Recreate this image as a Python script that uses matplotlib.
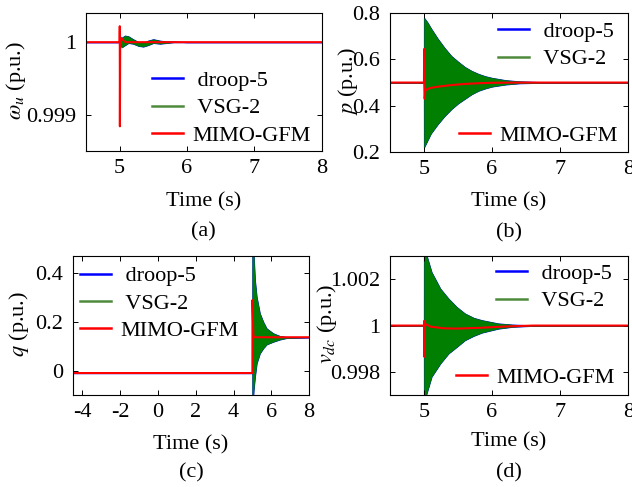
import numpy as np
from matplotlib import pyplot as plt
from matplotlib.lines import Line2D

plt.rcParams['font.family'] = ['Liberation Serif', 'DejaVu Serif']
plt.rcParams['mathtext.fontset'] = 'stix'
plt.rcParams['font.size'] = 16
plt.rcParams['axes.unicode_minus'] = False

BLUE, GREEN, RED = '#0000ff', '#007f00', '#ff0000'
GREEN_LEG = '#4f8a3c'

# ---- (a) omega_u: oscillation envelope of VSG-2 / droop-5, MIMO-GFM trace
t_w = [4.5, 5.0, 5.03, 5.08, 5.13, 5.2, 5.28, 5.35, 5.42, 5.5, 5.6, 5.7, 5.8, 6.0, 8.0]
w_hi = [1.0, 1.0, 1.00006, 1.00009, 1.00008, 1.00004, 1.0, 0.99999, 1.00002,
        1.00004, 1.00002, 1.00001, 1.00001, 1.0, 1.0]
w_lo = [1.0, 1.0, 0.99993, 0.99996, 0.99999, 0.99998, 0.99995, 0.99994, 0.99996,
        0.99999, 0.99998, 0.99999, 1.0, 1.0, 1.0]
t_w_mimo = [4.5, 5.0, 5.002, 5.004, 5.008, 5.02, 5.04, 5.07, 5.1, 5.2, 8.0]
w_mimo = [1.0, 1.0, 1.00022, 0.99884, 1.0, 1.00006, 1.00004, 1.00001, 1.0, 1.0, 1.0]

# ---- (b) p
t_p = [4.5, 4.999, 5.0, 5.05, 5.1, 5.2, 5.3, 5.4, 5.5, 5.6, 5.7, 5.8, 5.9, 6.0,
       6.2, 6.4, 6.7, 7.0, 8.0]
p_hi = [0.5, 0.5, 0.78, 0.76, 0.735, 0.69, 0.65, 0.615, 0.59, 0.567, 0.55, 0.537,
        0.527, 0.52, 0.51, 0.505, 0.502, 0.5, 0.5]
p_lo = [0.5, 0.5, 0.22, 0.25, 0.28, 0.32, 0.355, 0.385, 0.41, 0.43, 0.45, 0.465,
        0.475, 0.483, 0.492, 0.497, 0.499, 0.5, 0.5]
t_p_mimo = [4.5, 5.0, 5.002, 5.004, 5.01, 5.02, 5.05, 5.1, 5.2, 5.4, 5.6, 5.8, 6.0, 6.5, 8.0]
p_mimo = [0.5, 0.5, 0.645, 0.5, 0.43, 0.465, 0.472, 0.477, 0.482, 0.489, 0.494,
          0.497, 0.499, 0.5, 0.5]

# ---- (c) q
t_q = [-4.5, 4.999, 5.0, 5.06, 5.13, 5.22, 5.39, 5.57, 5.75, 6.1, 6.45, 6.8, 8.0]
q_hi = [-0.01, -0.01, 0.6, 0.48, 0.372, 0.303, 0.235, 0.2, 0.173, 0.153, 0.142, 0.138, 0.137]
q_lo = [-0.01, -0.01, -0.15, -0.08, -0.025, 0.03, 0.071, 0.092, 0.108, 0.119, 0.128, 0.134, 0.137]
t_q_mimo = [-4.5, 5.0, 5.005, 5.05, 5.1, 8.0]
q_mimo = [-0.01, -0.01, 0.29, 0.145, 0.137, 0.137]

# ---- (d) v_dc
t_v = [4.5, 4.999, 5.0, 5.11, 5.24, 5.36, 5.48, 5.6, 5.73, 5.85, 6.09, 6.3, 6.6, 7.0, 8.0]
v_hi = [1.0, 1.0, 1.0034, 1.00231, 1.00159, 1.00116, 1.0008, 1.00052, 1.00033,
        1.00023, 1.00009, 1.00004, 1.00001, 1.0, 1.0]
v_lo = [1.0, 1.0, 0.9967, 0.99779, 0.99837, 0.9988, 0.99908, 0.99937, 0.99956,
        0.9997, 0.99987, 0.99995, 0.99999, 1.0, 1.0]
t_v_mimo = [4.5, 5.0, 5.003, 5.006, 5.01, 5.03, 5.1, 5.3, 5.5, 5.8, 6.2, 6.6, 8.0]
v_mimo = [1.0, 1.0, 1.0002, 0.99865, 1.0, 1.00005, 0.99995, 0.99988, 0.99987,
          0.9999, 0.99996, 1.0, 1.0]

fig = plt.figure(figsize=(6.32, 4.87), dpi=100)


def panel(rect, t, hi, lo, tm, m, xlim, ylim, yt, ytl, xt, xtl, ylab, ylab_x):
    ax = fig.add_axes(rect)
    # droop-5 sits almost exactly under VSG-2
    ax.fill_between(t, hi, lo, color=BLUE, lw=0.8)
    ax.fill_between(t, hi, lo, color=GREEN, lw=0.4)
    ax.plot(tm, m, color=RED, lw=1.5)
    ax.set_xlim(xlim)
    ax.set_ylim(ylim)
    ax.set_xticks(xt)
    ax.set_xticklabels(xtl)
    ax.set_yticks(yt)
    ax.set_yticklabels(ytl)
    ax.tick_params(direction='in', top=True, right=True, length=3.5, width=0.7)
    ax.tick_params(axis='x', pad=6)
    ax.tick_params(axis='y', pad=7)
    for s in ax.spines.values():
        s.set_linewidth(0.8)
    ax.set_ylabel(ylab, va='center')
    ax.yaxis.set_label_coords(ylab_x, 0.51)
    ax.set_xlabel('Time (s)', va='center')
    return ax


def handles(cols):
    return [Line2D([], [], color=c, lw=1.8) for c in cols]


leg_kw = dict(frameon=False, borderpad=0, handlelength=1.4, handletextpad=0.4,
              labelspacing=0.3, borderaxespad=0)

ax = panel([0.136, 0.690, 0.373, 0.283], t_w, w_hi, w_lo, t_w_mimo, w_mimo,
           (4.5, 8), (0.9985, 1.0004), [0.999, 1.0], ['0.999', '1'],
           [5, 6, 7, 8], ['5', '6', '7', '8'], r'$\omega_u$ (p.u.)', -0.297)
ax.xaxis.set_label_coords(0.5, -0.37)
ax.text(0.5, -0.585, '(a)', transform=ax.transAxes, ha='center', va='center')
ax.legend(handles([BLUE, GREEN_LEG, RED]), [' droop-5', ' VSG-2', 'MIMO-GFM'],
          loc='upper left', bbox_to_anchor=(0.28, 0.583), **leg_kw)

ax = panel([0.617, 0.688, 0.377, 0.285], t_p, p_hi, p_lo, t_p_mimo, p_mimo,
           (4.5, 8), (0.2, 0.8), [0.2, 0.4, 0.6, 0.8], ['0.2', '0.4', '0.6', '0.8'],
           [5, 6, 7, 8], ['5', '6', '7', '8'], r'$p$ (p.u.)', -0.176)
ax.xaxis.set_label_coords(0.5, -0.36)
ax.text(0.5, -0.58, '(b)', transform=ax.transAxes, ha='center', va='center')
l1 = ax.legend(handles([BLUE, GREEN_LEG]), [' droop-5', ' VSG-2'],
               loc='upper left', bbox_to_anchor=(0.454, 0.939), **leg_kw)
ax.add_artist(l1)
ax.legend(handles([RED]), ['MIMO-GFM'],
          loc='upper left', bbox_to_anchor=(0.29, 0.191), **leg_kw)

ax = panel([0.1155, 0.189, 0.3735, 0.285], t_q, q_hi, q_lo, t_q_mimo, q_mimo,
           (-4.5, 8), (-0.1, 0.47), [0, 0.2, 0.4], ['0', '0.2', '0.4'],
           [-4, -2, 0, 2, 4, 6, 8], ['-4', '-2', '0', '2', '4', '6', '8'],
           r'$q$ (p.u.)', -0.229)
ax.xaxis.set_label_coords(0.5, -0.36)
ax.text(0.5, -0.56, '(c)', transform=ax.transAxes, ha='center', va='center')
ax.legend(handles([BLUE, GREEN_LEG, RED]), [' droop-5', ' VSG-2', 'MIMO-GFM'],
          loc='upper left', bbox_to_anchor=(0.03, 0.931), **leg_kw)

ax = panel([0.617, 0.189, 0.377, 0.285], t_v, v_hi, v_lo, t_v_mimo, v_mimo,
           (4.5, 8), (0.997, 1.003), [0.998, 1.0, 1.002], ['0.998', '1', '1.002'],
           [5, 6, 7, 8], ['5', '6', '7', '8'], r'$v_{dc}$ (p.u.)', -0.265)
ax.xaxis.set_label_coords(0.5, -0.34)
ax.text(0.5, -0.56, '(d)', transform=ax.transAxes, ha='center', va='center')
l1 = ax.legend(handles([BLUE, GREEN_LEG]), [' droop-5', ' VSG-2'],
               loc='upper left', bbox_to_anchor=(0.445, 0.946), **leg_kw)
ax.add_artist(l1)
ax.legend(handles([RED]), ['MIMO-GFM'],
          loc='upper left', bbox_to_anchor=(0.277, 0.198), **leg_kw)

fig.savefig('out.png', dpi=100)
